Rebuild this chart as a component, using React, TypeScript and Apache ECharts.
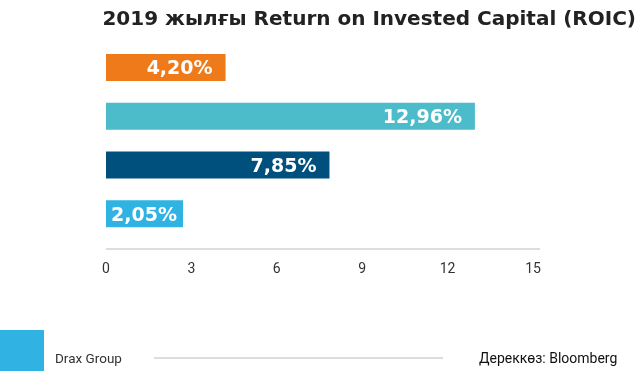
import React, { useEffect, useRef } from "react";
import * as echarts from "echarts";

const categories = ["A", "B", "C", "D"];
const values = [4.2, 12.96, 7.85, 2.05];
const barColors = ["#EF7A1A", "#4DBCCA", "#00507E", "#30B2E3"];
const xTicks = [0, 3, 6, 9, 12, 15];
const titleText = "2019 жылғы Return on Invested Capital (ROIC)";
const legendText = "Drax Group";
const sourceText = "Дереккөз: Bloomberg";

export default function App() {
  const ref = useRef<HTMLDivElement>(null);
  useEffect(() => {
    if (!ref.current) return;
    const chart = echarts.init(ref.current, null, { renderer: "svg" });
    chart.setOption({
      animation: false,
      grid: { left: 106, right: 109, top: 43, height: 195 },
      xAxis: {
        type: "value",
        min: xTicks[0],
        max: xTicks[xTicks.length - 1],
        interval: 3,
        axisLine: { show: false },
        axisTick: { show: false },
        splitLine: { show: false },
        axisLabel: {
          margin: 23,
          fontFamily: "Roboto",
          fontSize: 14,
          color: "#333",
        },
      },
      yAxis: {
        type: "category",
        data: categories,
        inverse: true,
        axisLine: { show: false },
        axisTick: { show: false },
        axisLabel: { show: false },
      },
      series: [
        {
          type: "bar",
          barWidth: 27,
          barMinHeight: 77,
          data: values.map((v, i) => ({
            value: v,
            itemStyle: { color: barColors[i] },
            label: { distance: i === 3 ? 6 : 13 },
          })),
          label: {
            show: true,
            position: "insideRight",
            color: "#fff",
            fontFamily: "DejaVu Sans",
            fontWeight: "bold",
            fontSize: 19,
            formatter: (p: any) => p.value.toFixed(2).replace(".", ",") + "%",
          },
        },
      ],
      graphic: [
        {
          type: "line",
          shape: { x1: 106, y1: 249, x2: 540, y2: 249 },
          style: { stroke: "#ddd", lineWidth: 2 },
        },
        {
          type: "text",
          right: 6,
          top: 8,
          style: {
            text: titleText,
            font: "bold 20px 'DejaVu Sans'",
            fill: "#222",
          },
        },
        {
          type: "rect",
          shape: { x: 0, y: 330, width: 44, height: 41 },
          style: { fill: "#30B2E3" },
        },
        {
          type: "text",
          x: 55,
          y: 358,
          style: {
            text: legendText,
            font: "13.5px Roboto",
            fill: "#333",
            textVerticalAlign: "middle",
          },
        },
        {
          type: "line",
          shape: { x1: 154, y1: 358, x2: 443, y2: 358 },
          style: { stroke: "#ddd", lineWidth: 2 },
        },
        {
          type: "text",
          x: 479,
          y: 358,
          style: {
            text: sourceText,
            font: "14px Roboto",
            fill: "#111",
            textVerticalAlign: "middle",
          },
        },
      ],
    });
    return () => chart.dispose();
  }, []);
  return (
    <div
      ref={ref}
      style={{ position: "fixed", left: 0, top: 0, width: 642, height: 371 }}
    />
  );
}
